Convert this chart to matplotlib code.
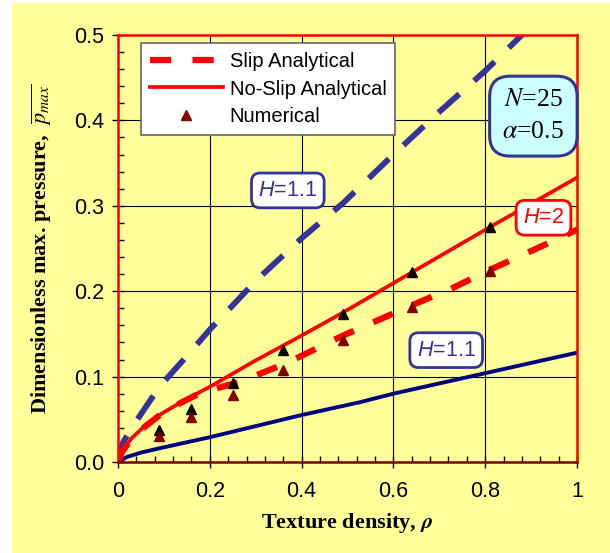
import matplotlib
matplotlib.use('Agg')
import matplotlib.pyplot as plt
from matplotlib.patches import Rectangle
from matplotlib.ticker import MultipleLocator, FormatStrFormatter

# values
rho_slip_h11 = [0, 0.01, 0.03, 0.06, 0.09, 0.14, 0.2, 0.3, 0.4, 0.49, 0.6, 0.7, 0.8, 0.88]
p_slip_h11 = [0, 0.022, 0.040, 0.064, 0.088, 0.118, 0.155, 0.212, 0.262, 0.303, 0.360, 0.410, 0.458, 0.500]

rho_noslip_h2 = [0, 0.01, 0.03, 0.06, 0.09, 0.15, 0.2, 0.3, 0.4, 0.49, 0.64, 0.81, 1.0]
p_noslip_h2 = [0, 0.014, 0.028, 0.043, 0.055, 0.074, 0.088, 0.119, 0.148, 0.175, 0.222, 0.275, 0.333]

rho_slip_h2 = [0, 0.01, 0.03, 0.06, 0.106, 0.18, 0.266, 0.368, 0.49, 0.651, 0.73, 0.81, 0.904, 1.0]
p_slip_h2 = [0, 0.013, 0.027, 0.042, 0.061, 0.081, 0.094, 0.116, 0.148, 0.186, 0.204, 0.225, 0.248, 0.272]

rho_noslip_h11 = [0, 0.02, 0.05, 0.09, 0.2, 0.3, 0.4, 0.527, 0.6, 0.7, 0.8, 0.9, 1.0]
p_noslip_h11 = [0, 0.006, 0.011, 0.016, 0.029, 0.042, 0.055, 0.070, 0.080, 0.092, 0.104, 0.116, 0.128]

rho_num = [0.09, 0.16, 0.25, 0.36, 0.49, 0.64, 0.81]
p_num_noslip = [0.037, 0.062, 0.093, 0.131, 0.173, 0.222, 0.275]
p_num_slip = [0.030, 0.053, 0.078, 0.108, 0.143, 0.181, 0.224]

yellow = '#FFFF99'
blue = '#333399'
navy = '#000080'
red = '#FF0000'
darkred = '#800000'

plt.rcParams['font.family'] = ['Liberation Sans', 'DejaVu Sans']
# sans italic math for the H= labels, stix (Times-like) for the rest
plt.rcParams['mathtext.fontset'] = 'custom'
plt.rcParams['mathtext.it'] = 'Liberation Sans:italic'
plt.rcParams['mathtext.rm'] = 'Liberation Sans'
plt.rcParams['mathtext.bf'] = 'Liberation Sans:bold'

fig = plt.figure(figsize=(6.1, 5.53), dpi=100, facecolor='white')
fig.patches.append(Rectangle((12 / 610, 0), 1, 550 / 553, transform=fig.transFigure,
                             facecolor=yellow, edgecolor='none', zorder=-10))
ax = fig.add_axes([118 / 610, 1 - 462 / 553, 459 / 610, 427 / 553])
ax.set_facecolor(yellow)

ax.plot(rho_slip_h11, p_slip_h11, color=blue, lw=4.2, dashes=(4.8, 3.4), zorder=3)
ax.plot(rho_noslip_h11, p_noslip_h11, color=navy, lw=2.8, zorder=3)
ax.plot(rho_slip_h2, p_slip_h2, color=red, lw=4.5, dashes=(3.4, 3.4), zorder=4,
        label='Slip Analytical')
ax.plot(rho_noslip_h2, p_noslip_h2, color=red, lw=2.7, zorder=4,
        label='No-Slip Analytical')
ax.plot(rho_num, p_num_noslip, ls='none', marker='^', ms=7.5, color='black', zorder=5)
ax.plot(rho_num, p_num_slip, ls='none', marker='^', ms=7.5, color=darkred, zorder=5,
        label='Numerical')

ax.set_xlim(0, 1)
ax.set_ylim(0, 0.5)
ax.xaxis.set_major_locator(MultipleLocator(0.2))
ax.xaxis.set_minor_locator(MultipleLocator(0.04))
ax.yaxis.set_major_locator(MultipleLocator(0.1))
ax.yaxis.set_minor_locator(MultipleLocator(0.02))
ax.yaxis.set_major_formatter(FormatStrFormatter('%.1f'))
ax.set_xticks([0, 0.2, 0.4, 0.6, 0.8, 1.0])
ax.set_xticklabels(['0', '0.2', '0.4', '0.6', '0.8', '1'])
ax.tick_params(which='major', direction='inout', length=8, width=1, labelsize=15.5,
               colors='black', pad=6)
ax.tick_params(axis='x', which='major', pad=10)
ax.tick_params(which='minor', direction='in', length=4, width=1, color='black')
ax.grid(True, which='major', color='black', lw=0.8)
ax.set_axisbelow(True)

ax.spines['top'].set_color(red)
ax.spines['right'].set_color(red)
ax.spines['left'].set_color(red)
ax.spines['bottom'].set_color(darkred)
for s in ax.spines.values():
    s.set_linewidth(1.8)
    s.set_zorder(6)

ax.set_xlabel(r'Texture density, $\boldsymbol{\rho}$', family='Liberation Serif',
              weight='bold', fontsize=16, labelpad=6, math_fontfamily='stix')
ax.set_ylabel(r'Dimensionless max. pressure,  $\overline{p_{max}}$', family='Liberation Serif',
              weight='bold', fontsize=16, labelpad=14, math_fontfamily='stix')

leg = ax.legend(loc='upper left', bbox_to_anchor=(0.05, 0.981), fontsize=14.5,
                fancybox=False, framealpha=1, edgecolor='#666666', handlelength=3.6,
                borderpad=0.45, labelspacing=0.42, handletextpad=0.35, borderaxespad=0,
                handleheight=0.8)
leg.get_frame().set_linewidth(1.2)
leg.set_zorder(7)

ax.text(0.905, 0.405, '$N$=25\n' + r'$\alpha$=0.5', family='Liberation Serif',
        fontsize=18.5, ha='center', va='center', linespacing=1.6, zorder=8,
        math_fontfamily='stix',
        bbox=dict(boxstyle='round,pad=0.5,rounding_size=0.8', facecolor='#CCFFFF',
                  edgecolor=blue, lw=2.2))

ax.text(0.37, 0.318, '$H$=1.1', color=blue, fontsize=15.5, ha='center', va='center',
        zorder=8, bbox=dict(boxstyle='round,pad=0.32,rounding_size=0.4', facecolor='white',
                            edgecolor=blue, lw=2))
ax.text(0.715, 0.131, '$H$=1.1', color=blue, fontsize=15.5, ha='center', va='center',
        zorder=8, bbox=dict(boxstyle='round,pad=0.32,rounding_size=0.4', facecolor='white',
                            edgecolor=blue, lw=2))
ax.text(0.927, 0.286, '$H$=2', color=red, fontsize=15.5, ha='center', va='center',
        zorder=8, clip_on=False,
        bbox=dict(boxstyle='round,pad=0.32,rounding_size=0.4', facecolor='white',
                  edgecolor=red, lw=2))

fig.savefig('out.png', dpi=100, facecolor='white')
